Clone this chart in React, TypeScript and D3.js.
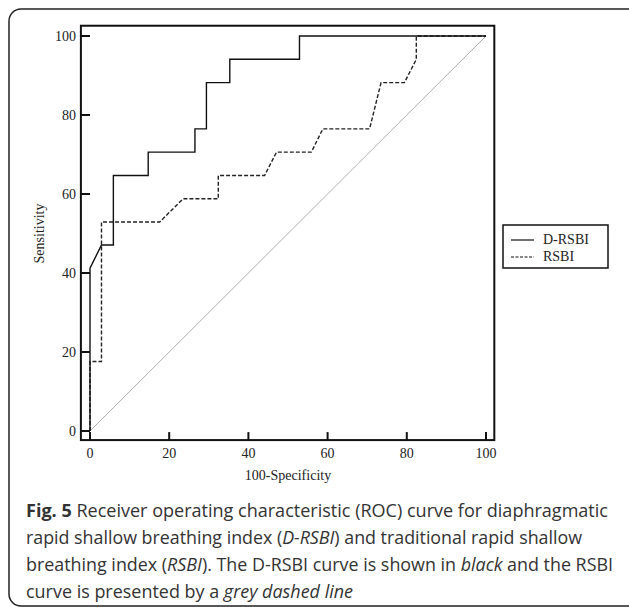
import React from 'react';
import * as d3 from 'd3';

// ROC points: 100-Specificity (x) and Sensitivity (y), in percent
const dRsbiFpr = [0, 0, 2.9, 5.9, 5.9, 14.7, 14.7, 26.5, 26.5, 29.4, 29.4, 35.3, 35.3, 52.9, 52.9, 100];
const dRsbiTpr = [0, 41.2, 47.1, 47.1, 64.7, 64.7, 70.6, 70.6, 76.5, 76.5, 88.2, 88.2, 94.1, 94.1, 100, 100];

const rsbiFpr = [0, 0, 2.9, 2.9, 17.6, 23.5, 32.4, 32.4, 44.1, 47.1, 55.9, 58.8, 70.6, 73.5, 79.4, 82.4, 82.4, 100];
const rsbiTpr = [0, 17.6, 17.6, 52.9, 52.9, 58.8, 58.8, 64.7, 64.7, 70.6, 70.6, 76.5, 76.5, 88.2, 88.2, 94.1, 100, 100];

const xTicks = [0, 20, 40, 60, 80, 100];
const yTicks = [0, 20, 40, 60, 80, 100];

const legendLabels = ['D-RSBI', 'RSBI'];

const serif = '"Liberation Serif", "DejaVu Serif", serif';
const sans = '"Open Sans", "Noto Sans", sans-serif';

const App = () => {
  const width = 629;
  const height = 607;

  const x = d3.scaleLinear().domain([0, 100]).range([90, 486]);
  const y = d3.scaleLinear().domain([0, 100]).range([431, 36]);

  // frame sits a little outside the data range
  const left = x(-2.3);
  const right = x(102.1);
  const top = y(102.6);
  const bottom = y(-2.3);

  const line = d3.line<number[]>()
    .x(d => x(d[0]))
    .y(d => y(d[1]));

  const dRsbi = dRsbiFpr.map((v, i) => [v, dRsbiTpr[i]]);
  const rsbi = rsbiFpr.map((v, i) => [v, rsbiTpr[i]]);

  const capColor = '#333';

  return (
    <svg width={width} height={height} style={{ position: 'absolute', left: 0, top: 0, background: '#fff' }}>
      <rect x={9} y={9} width={640} height={597} rx={12} fill="none" stroke="#222" strokeWidth={1.5} />

      {/* chance line */}
      <path d={line([[0, 0], [100, 100]]) || ''} fill="none" stroke="#9a9a9a" strokeWidth={0.8} />

      <path d={line(rsbi) || ''} fill="none" stroke="#222" strokeWidth={1.4} strokeDasharray="4,2" />
      <path d={line(dRsbi) || ''} fill="none" stroke="#111" strokeWidth={1.4} />

      {/* frame */}
      <rect x={left} y={top} width={right - left} height={bottom - top} fill="none" stroke="#111" strokeWidth={2} />

      {yTicks.map(t => (
        <g key={'y' + t}>
          <line x1={left} x2={x(0)} y1={y(t)} y2={y(t)} stroke="#111" strokeWidth={2} />
          <text x={76} y={y(t)} dy="0.35em" textAnchor="end" fontFamily={serif} fontSize={14} fill="#222">{t}</text>
        </g>
      ))}
      {xTicks.map(t => (
        <g key={'x' + t}>
          <line x1={x(t)} x2={x(t)} y1={bottom} y2={bottom - 8} stroke="#111" strokeWidth={2} />
          <text x={x(t)} y={458} textAnchor="middle" fontFamily={serif} fontSize={14} fill="#222">{t}</text>
        </g>
      ))}

      <text x={(x(0) + x(100)) / 2} y={480} textAnchor="middle" fontFamily={serif} fontSize={14} fill="#222">100-Specificity</text>
      <text transform={`translate(44,${y(50)}) rotate(-90)`} textAnchor="middle" fontFamily={serif} fontSize={14} fill="#222">Sensitivity</text>

      {/* legend */}
      <rect x={503} y={225} width={105} height={43} fill="#fff" stroke="#111" strokeWidth={1.5} />
      {legendLabels.map((label, i) => (
        <g key={label}>
          <line x1={511} x2={534} y1={240 + i * 17} y2={240 + i * 17} stroke="#111" strokeWidth={1.2}
            strokeDasharray={i === 1 ? '3,1.5' : undefined} />
          <text x={543} y={244 + i * 17} fontFamily={serif} fontSize={14} fill="#222">{label}</text>
        </g>
      ))}

      {/* caption */}
      <g fontFamily={sans} fontSize={18} fill={capColor}>
        <text x={26} y={517} textLength={582} lengthAdjust="spacingAndGlyphs">
          <tspan fontWeight="bold">Fig. 5</tspan> Receiver operating characteristic (ROC) curve for diaphragmatic
        </text>
        <text x={26} y={544} textLength={556} lengthAdjust="spacingAndGlyphs">
          rapid shallow breathing index (<tspan fontStyle="italic">D-RSBI</tspan>) and traditional rapid shallow
        </text>
        <text x={26} y={571} textLength={587} lengthAdjust="spacingAndGlyphs">
          breathing index (<tspan fontStyle="italic">RSBI</tspan>). The D-RSBI curve is shown in <tspan fontStyle="italic">black</tspan> and the RSBI
        </text>
        <text x={26} y={598} textLength={327} lengthAdjust="spacingAndGlyphs">
          curve is presented by a <tspan fontStyle="italic">grey dashed line</tspan>
        </text>
      </g>
    </svg>
  );
};

export default App;
